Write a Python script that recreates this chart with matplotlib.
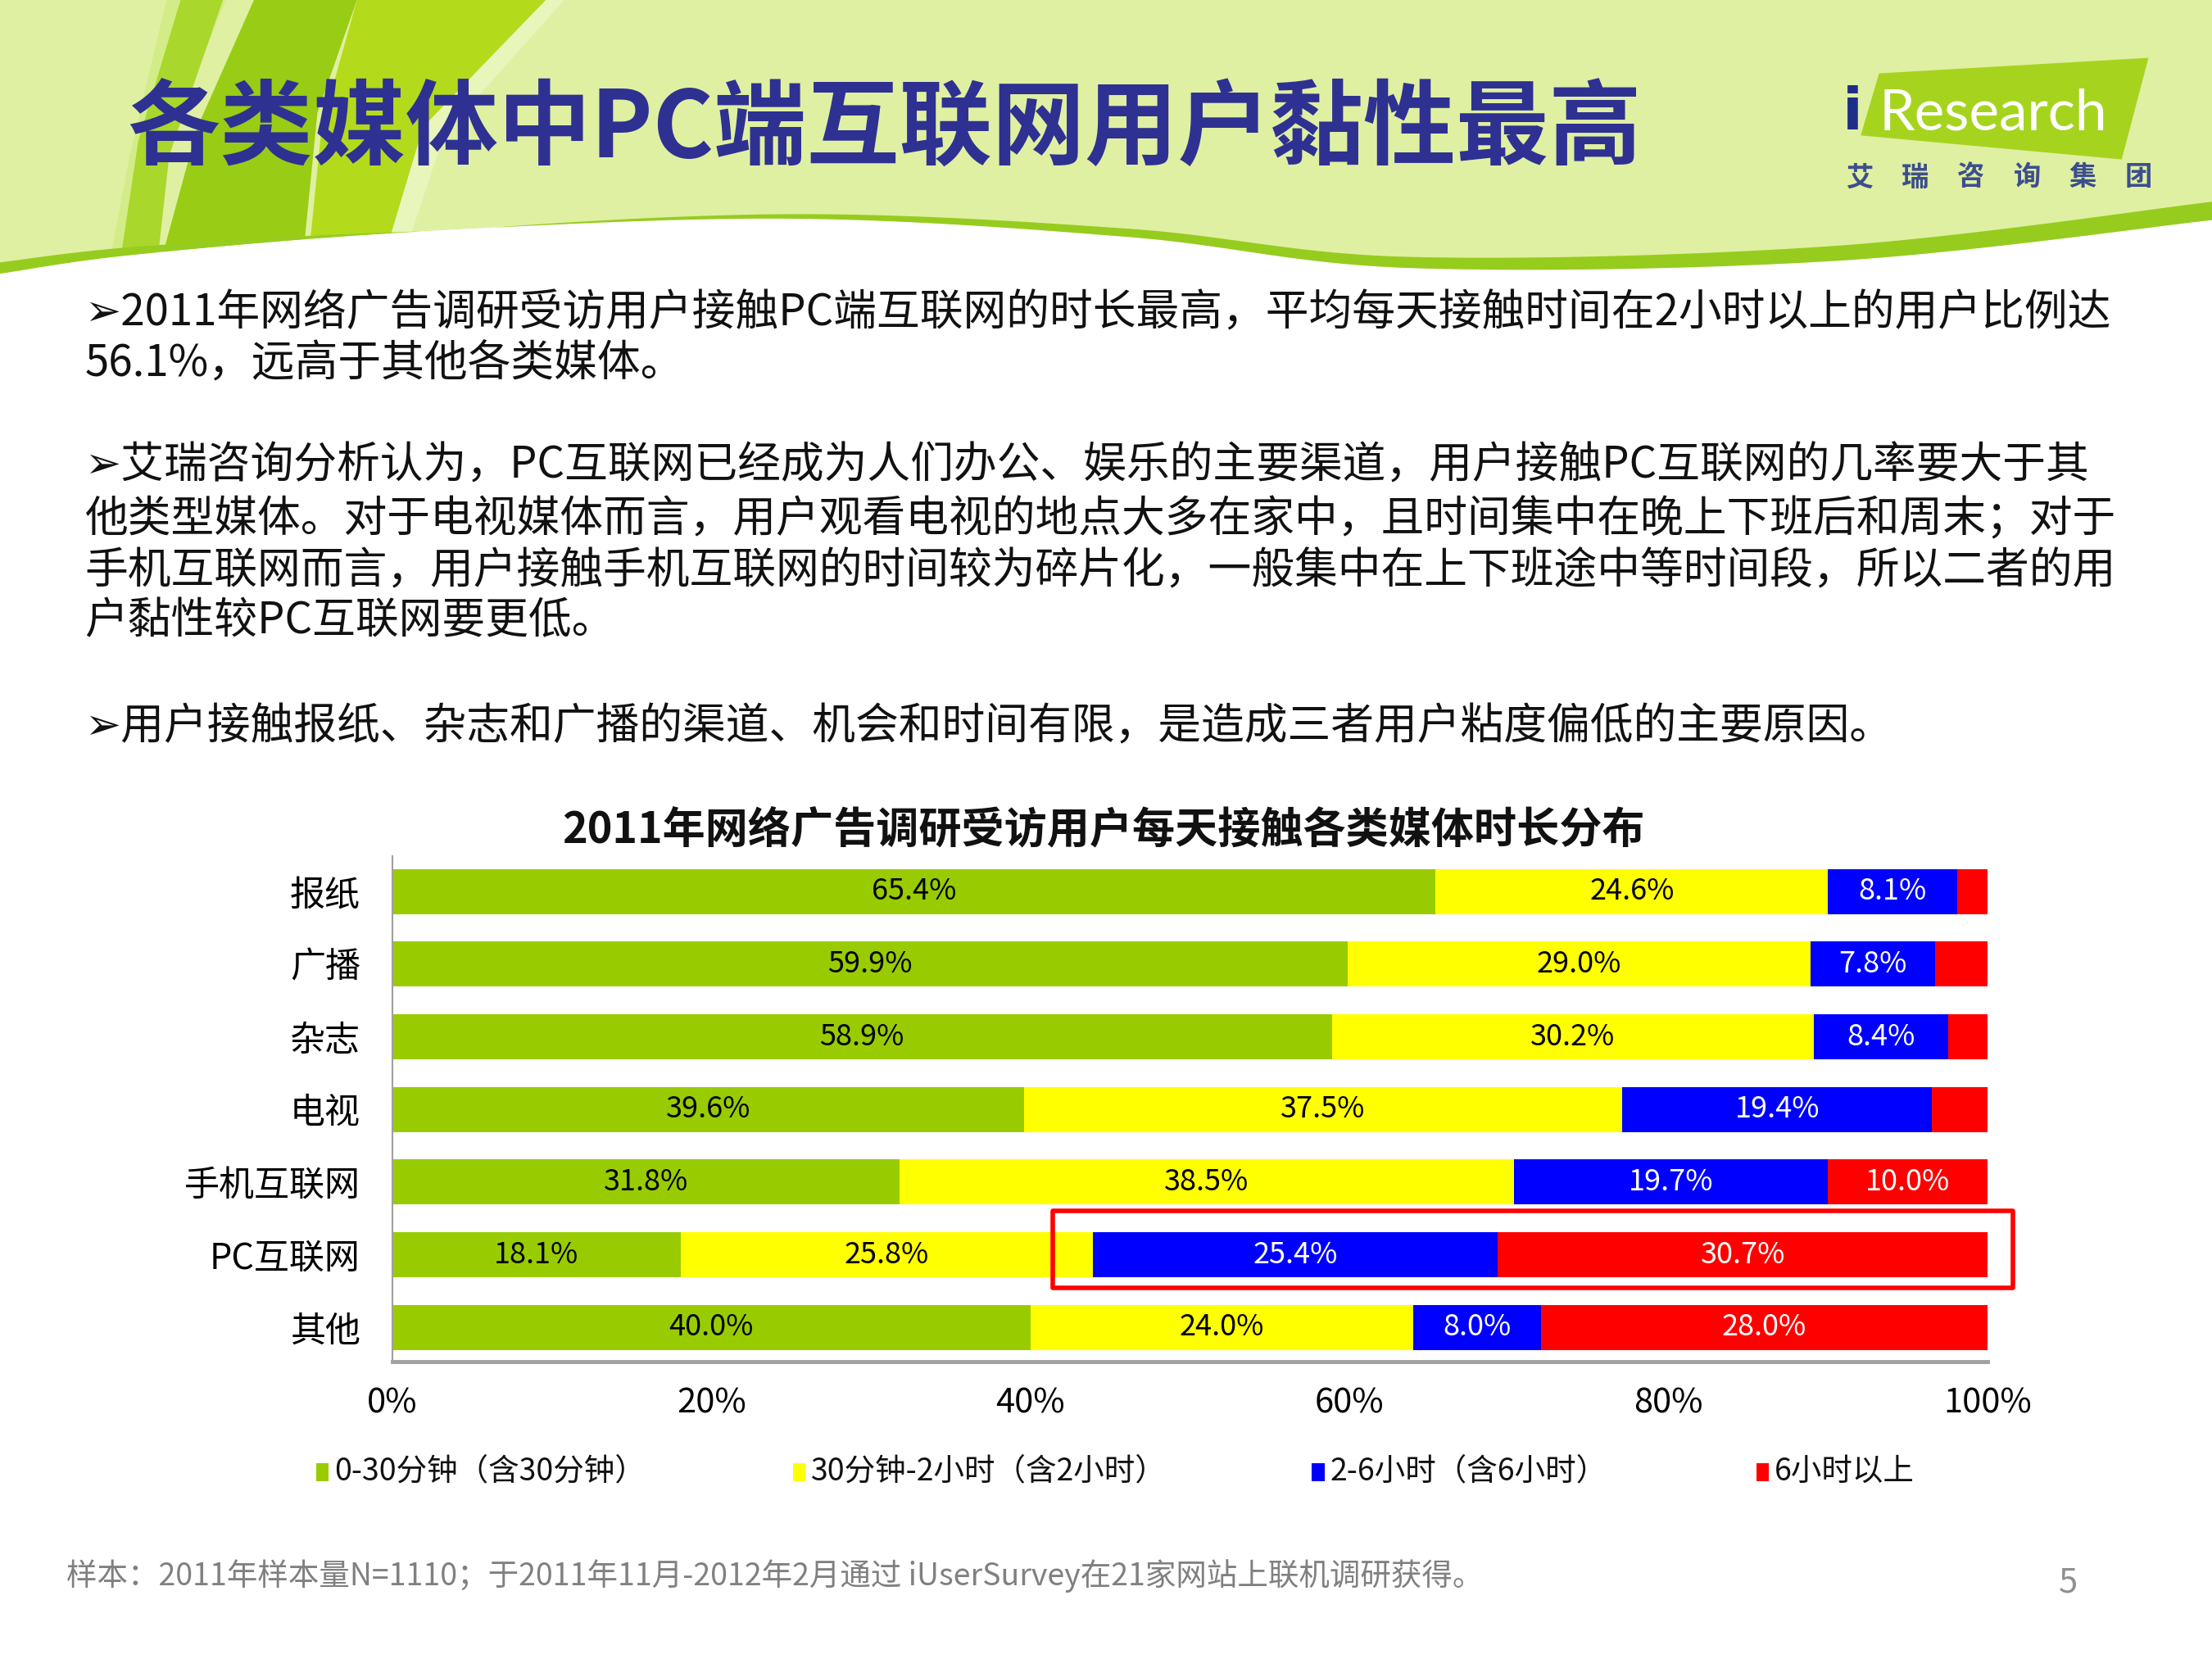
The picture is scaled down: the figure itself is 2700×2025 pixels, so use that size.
import matplotlib
matplotlib.use('Agg')
import matplotlib.pyplot as plt
import numpy as np
from matplotlib.patches import Polygon, Rectangle

plt.rcParams['font.family'] = ['Noto Sans CJK SC', 'DejaVu Sans']

# ---------------- data ----------------
categories = ['报纸', '广播', '杂志', '电视', '手机互联网', 'PC互联网', '其他']
series_names = ['0-30分钟（含30分钟）', '30分钟-2小时（含2小时）', '2-6小时（含6小时）', '6小时以上']
v_0_30min = [65.4, 59.9, 58.9, 39.6, 31.8, 18.1, 40.0]
v_30min_2h = [24.6, 29.0, 30.2, 37.5, 38.5, 25.8, 24.0]
v_2h_6h = [8.1, 7.8, 8.4, 19.4, 19.7, 25.4, 8.0]
v_6h_plus = [1.9, 3.3, 2.5, 3.5, 10.0, 30.7, 28.0]
x_ticks = [0, 20, 40, 60, 80, 100]
x_tick_labels = ['0%', '20%', '40%', '60%', '80%', '100%']
highlight_category = 'PC互联网'

series = [v_0_30min, v_30min_2h, v_2h_6h, v_6h_plus]
colors = ['#99CC00', '#FFFF00', '#0000FF', '#FF0000']
label_colors = ['#000000', '#000000', '#FFFFFF', '#FFFFFF']

title = '各类媒体中PC端互联网用户黏性最高'
chart_title = '2011年网络广告调研受访用户每天接触各类媒体时长分布'
body_lines = [
    ('➢2011年网络广告调研受访用户接触PC端互联网的时长最高，平均每天接触时间在2小时以上的用户比例达', 222),
    ('56.1%，远高于其他各类媒体。', 258),
    ('➢艾瑞咨询分析认为，PC互联网已经成为人们办公、娱乐的主要渠道，用户接触PC互联网的几率要大于其', 330),
    ('他类型媒体。对于电视媒体而言，用户观看电视的地点大多在家中，且时间集中在晚上下班后和周末；对于', 368),
    ('手机互联网而言，用户接触手机互联网的时间较为碎片化，一般集中在上下班途中等时间段，所以二者的用', 405),
    ('户黏性较PC互联网要更低。', 440),
    ('➢用户接触报纸、杂志和广播的渠道、机会和时间有限，是造成三者用户粘度偏低的主要原因。', 515),
]
footnote = '样本：2011年样本量N=1110；于2011年11月-2012年2月通过 iUserSurvey在21家网站上联机调研获得。'

# ---------------- figure ----------------
W, H = 1568, 1176
fig = plt.figure(figsize=(27, 20.25), dpi=100)
bg = fig.add_axes([0, 0, 1, 1])
bg.set_xlim(0, W)
bg.set_ylim(H, 0)
bg.axis('off')
bg.set_zorder(0)

# header background
def catmull(pts, n=40):
    pts = np.asarray(pts, float)
    P = np.vstack([pts[0], pts, pts[-1]])
    out = []
    for i in range(1, len(P) - 2):
        p0, p1, p2, p3 = P[i - 1], P[i], P[i + 1], P[i + 2]
        t = np.linspace(0, 1, n)[:, None]
        seg = 0.5 * ((2 * p1) + (-p0 + p2) * t + (2 * p0 - 5 * p1 + 4 * p2 - p3) * t ** 2
                     + (-p0 + 3 * p1 - 3 * p2 + p3) * t ** 3)
        out.append(seg)
    return np.vstack(out)

bpts = [(0, 194), (100, 180), (300, 164), (560, 155), (800, 168), (1000, 190),
        (1300, 185), (1568, 156)]
curve = catmull(bpts)
cx, cy = curve[:, 0], curve[:, 1]

bg.fill_between(cx, 0, cy, color='#DFF0A2', lw=0, zorder=0)
# left stripes
stripes = [
    ([(118, 0), (160, 0), (112, 120), (100, 200), (75, 200), (92, 110)], '#D3EC88'),
    ([(128, 0), (158, 0), (120, 110), (110, 200), (83, 200), (98, 100)], '#A9D72C'),
    ([(180, 0), (253, 0), (225, 80), (213, 200), (110, 200), (140, 90)], '#99CC14'),
    ([(253, 0), (387, 0), (300, 90), (267, 200), (217, 200), (228, 90)], '#B3DB1C'),
    ([(387, 0), (400, 0), (315, 95), (280, 200), (267, 200), (300, 90)], '#E8F6BC'),
]
for pts, c in stripes:
    bg.add_patch(Polygon(pts, closed=True, color=c, lw=0, zorder=0.5))
# white area below the curve
bg.fill_between(cx, cy, 260, color='white', lw=0, zorder=1)
# darker green swoosh along the boundary
thick = np.clip((cx - 350) / (W - 350), 0, 1) ** 0.8 * 13
left_thick = np.clip((300 - cx) / 300, 0, 1) * 8
bg.fill_between(cx, cy - thick - left_thick, cy, color='#96CC1E', lw=0, zorder=1.2)

# title
bg.text(90, 92, title, fontsize=81.5, color='#2E3192', fontweight='bold',
        ha='left', va='center', zorder=3)

# logo
bg.add_patch(Polygon([(1332, 52), (1523, 41), (1504, 113), (1319, 96)], closed=True,
                     color='#A6D41E', lw=0, zorder=2))
bg.text(1306, 92, 'i', fontsize=52, color='#1F2D8A', fontweight='bold',
        family=['DejaVu Sans'], ha='left', va='baseline', zorder=3)
bg.text(1332, 92, 'Research', fontsize=50, color='white', family=['Lato', 'DejaVu Sans'],
        ha='left', va='baseline', zorder=3)
for i, ch in enumerate('艾瑞咨询集团'):
    bg.text(1318 + i * 39.6, 126, ch, fontsize=24, color='#3D4E8E', fontweight='bold',
            ha='center', va='center', zorder=3)

# body text
for txt, y in body_lines:
    bg.text(60, y, txt, fontsize=38, color='#111111', ha='left', va='center', zorder=3)

# chart title
bg.text(782, 588, chart_title, fontsize=37.5, color='#111111', fontweight='bold',
        ha='center', va='center', zorder=3)

# ---------------- chart ----------------
ax = fig.add_axes([278 / W, 1 - 965 / H, (1409 - 278) / W, (965 - 607) / H])
ax.set_zorder(2)
ax.patch.set_alpha(0)
y = np.arange(len(categories))
left = np.zeros(len(categories))
for vals, c, lc in zip(series, colors, label_colors):
    vals = np.array(vals)
    ax.barh(y, vals, left=left, height=0.62, color=c, edgecolor='none', zorder=2)
    for yi, (l, v) in enumerate(zip(left, vals)):
        if v >= 5:
            ax.text(l + v / 2, yi, f'{v:.1f}%', ha='center', va='center',
                    fontsize=26, color=lc, fontweight='light', zorder=3)
    left = left + vals

ax.set_xlim(0, 100)
ax.set_ylim(6.466, -0.485)
ax.set_yticks(y)
ax.set_yticklabels(categories, fontsize=31)
ax.set_xticks(x_ticks)
ax.set_xticklabels(x_tick_labels, fontsize=30, fontweight='light')
ax.tick_params(axis='x', length=0, pad=22)
ax.tick_params(axis='y', length=0, pad=28)
for s in ['top', 'right']:
    ax.spines[s].set_visible(False)
ax.spines['left'].set_color('#A0A0A0')
ax.spines['left'].set_linewidth(1.5)
ax.spines['bottom'].set_color('#A0A0A0')
ax.spines['bottom'].set_linewidth(3.5)

# highlight rectangle around the long-use segments of PC互联网
hi = categories.index(highlight_category)
x0 = v_0_30min[hi] + v_30min_2h[hi] - 2.5
ax.add_patch(Rectangle((x0, hi - 0.60), 101.6 - x0, 1.05, fill=False,
                       edgecolor='#FF0000', lw=4, joinstyle='round',
                       clip_on=False, zorder=4))

# legend
leg_x = [224, 562, 930, 1245]
for lx, name, c in zip(leg_x, series_names, colors):
    bg.add_patch(Rectangle((lx, 1037), 9, 13, color=c, lw=0, zorder=3))
    bg.text(lx + 13, 1043, name, fontsize=27, color='#111111', ha='left', va='center', zorder=3)

# footnote and page number
bg.text(47, 1117, footnote, fontsize=27, color='#808080', ha='left', va='center', zorder=3)
bg.text(1466, 1122, '5', fontsize=30, color='#909090', ha='center', va='center', zorder=3)

fig.savefig('out.png', dpi=100)
